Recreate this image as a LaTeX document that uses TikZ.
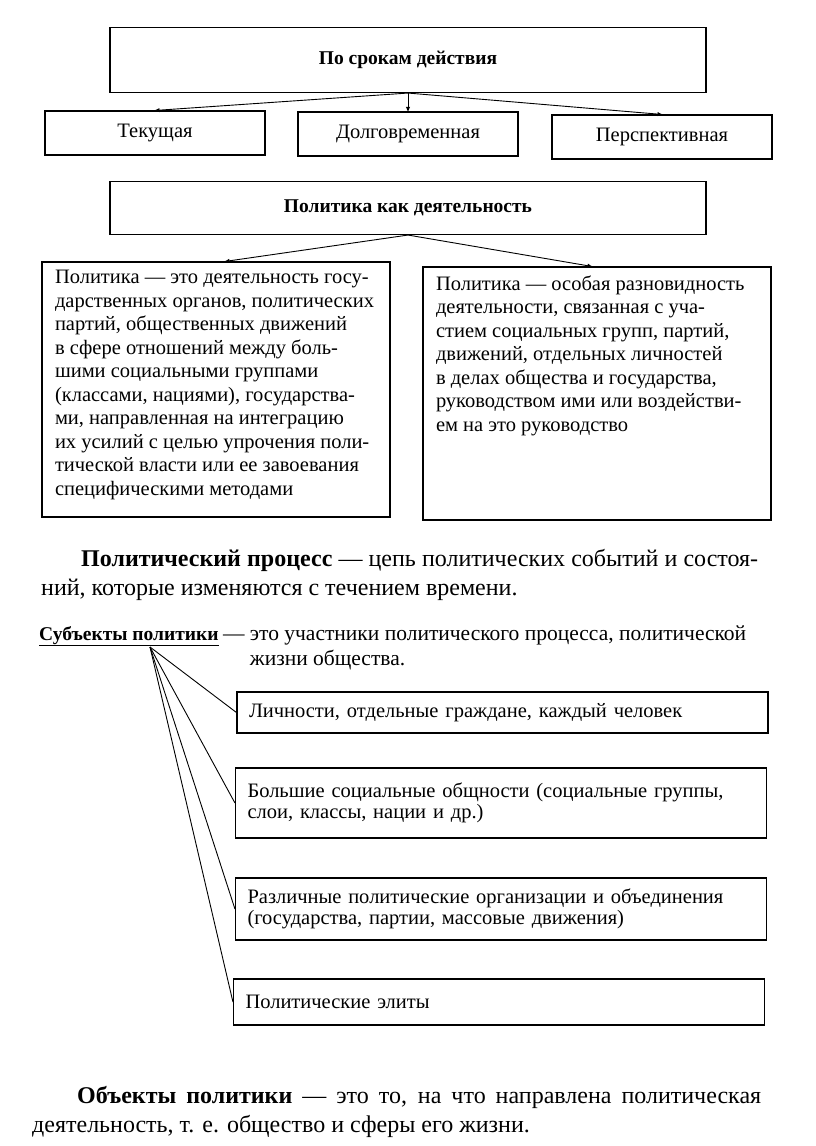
\documentclass[tikz,border=0pt]{standalone}
\usepackage{fontspec}
\setmainfont{Liberation Serif}
\usetikzlibrary{arrows, calc, positioning}
\tikzset{
    headBox/.style={rectangle, draw, line width=1.1pt, minimum width=596pt, inner sep=0pt, font=\fontsize{19.5}{22}\selectfont\bfseries},
    termBox/.style={rectangle, draw, line width=1.1pt, minimum width=220pt, minimum height=44pt, inner sep=0pt, font=\fontsize{20.5}{22}\selectfont},
    defBox/.style={rectangle, draw, line width=1.1pt, minimum width=348pt, inner sep=0pt, font=\fontsize{20.5}{23.5}\selectfont},
    itemBox/.style={rectangle, draw, line width=1.1pt, minimum width=531pt, inner xsep=12pt, inner ysep=0pt, text width=507pt, align=left, font=\fontsize{20.5}{20.5}\selectfont},
    paraText/.style={inner sep=0pt, align=justify, font=\fontsize{24}{29.5}\selectfont},
    linkEdge/.style={->, >=latex, line width=0.9pt, shorten >=-1pt},
    fanEdge/.style={line width=0.9pt},
}
\newcommand{\drawLink}[3][linkEdge]{
    \draw[#1] (#2) -- (#3);
}
\begin{document}
\begin{tikzpicture}[x=1pt, y=-1pt]
    \useasboundingbox (0,0) rectangle (816,1146);

    % po srokam
    \node[headBox, minimum height=65pt] (srok) at (408,60) {По срокам действия};
    \node[termBox] (tek) at (155,133) {Текущая};
    \node[termBox] (dolg) at (408,134) {Долговременная};
    \node[termBox] (persp) at (662,137) {Перспективная};

    \drawLink{srok.south}{tek.north}
    \drawLink{srok.south}{dolg.north}
    \drawLink{srok.south}{persp.north}

    % politika kak deyatelnost
    \node[headBox, minimum height=53pt] (deyat) at (408,208) {Политика как деятельность};
    \node[defBox, minimum height=255pt] (defLeft) at (216,389.5) {\parbox[c][238pt][t]{322pt}{\raggedright
        Политика — это деятельность госу-\\
        дарственных органов, политических\\
        партий, общественных движений\\
        в сфере отношений между боль-\\
        шими социальными группами\\
        (классами, нациями), государства-\\
        ми, направленная на интеграцию\\
        их усилий с целью упрочения поли-\\
        тической власти или ее завоевания\\
        специфическими методами}};
    \node[defBox, minimum height=253pt] (defRight) at (597,393.5) {\parbox[c][236pt][t]{322pt}{\raggedright
        Политика — особая разновидность\\
        деятельности, связанная с уча-\\
        стием социальных групп, партий,\\
        движений, отдельных личностей\\
        в делах общества и государства,\\
        руководством ими или воздействи-\\
        ем на это руководство}};

    \drawLink{deyat.south}{$(defLeft.north)+(9,0)$}
    \drawLink{deyat.south}{$(defRight.north)+(-5,0)$}

    % process
    \node[paraText, text width=717pt, anchor=north west] (process) at (41,549) {\hspace*{40pt}\textbf{Политический процесс} — цепь политических событий и состоя-\linebreak ний, которые изменяются с течением времени.};

    % subjekty
    \node[inner sep=0pt, anchor=base west, font=\fontsize{19.5}{22}\selectfont] (subj) at (39,640) {\underline{\textbf{Субъекты политики}}};
    \node[inner sep=0pt, anchor=base west, font=\fontsize{21.5}{25}\selectfont] (subjDef) at ([xshift=4pt]subj.base east) {\begin{tabular}[t]{@{}l@{\ }l@{}}
        — & это участники политического процесса, политической\\
          & жизни общества.
    \end{tabular}};
    \coordinate (fan) at (150,647);

    \node[itemBox, minimum height=41pt] (pers) at (502.5,712.5) {Личности, отдельные граждане, каждый человек};
    \node[itemBox, minimum height=70pt] (obsch) at (501,803) {Большие социальные общности (социальные группы,\\ слои, классы, нации и др.)};
    \node[itemBox, minimum height=62pt] (org) at (501,909) {Различные политические организации и объединения\\ (государства, партии, массовые движения)};
    \node[itemBox, minimum height=46pt] (elit) at (499,1002) {Политические элиты};

    \foreach \n in {pers, obsch, org, elit}
        \drawLink[fanEdge]{fan}{\n.west};

    % objekty
    \node[paraText, text width=729pt, anchor=north west] (objekt) at (32,1086) {\hspace*{45pt}\textbf{Объекты политики} — это то, на что направлена политическая\linebreak деятельность, т. е. общество и сферы его жизни.};

\end{tikzpicture}
\end{document}
